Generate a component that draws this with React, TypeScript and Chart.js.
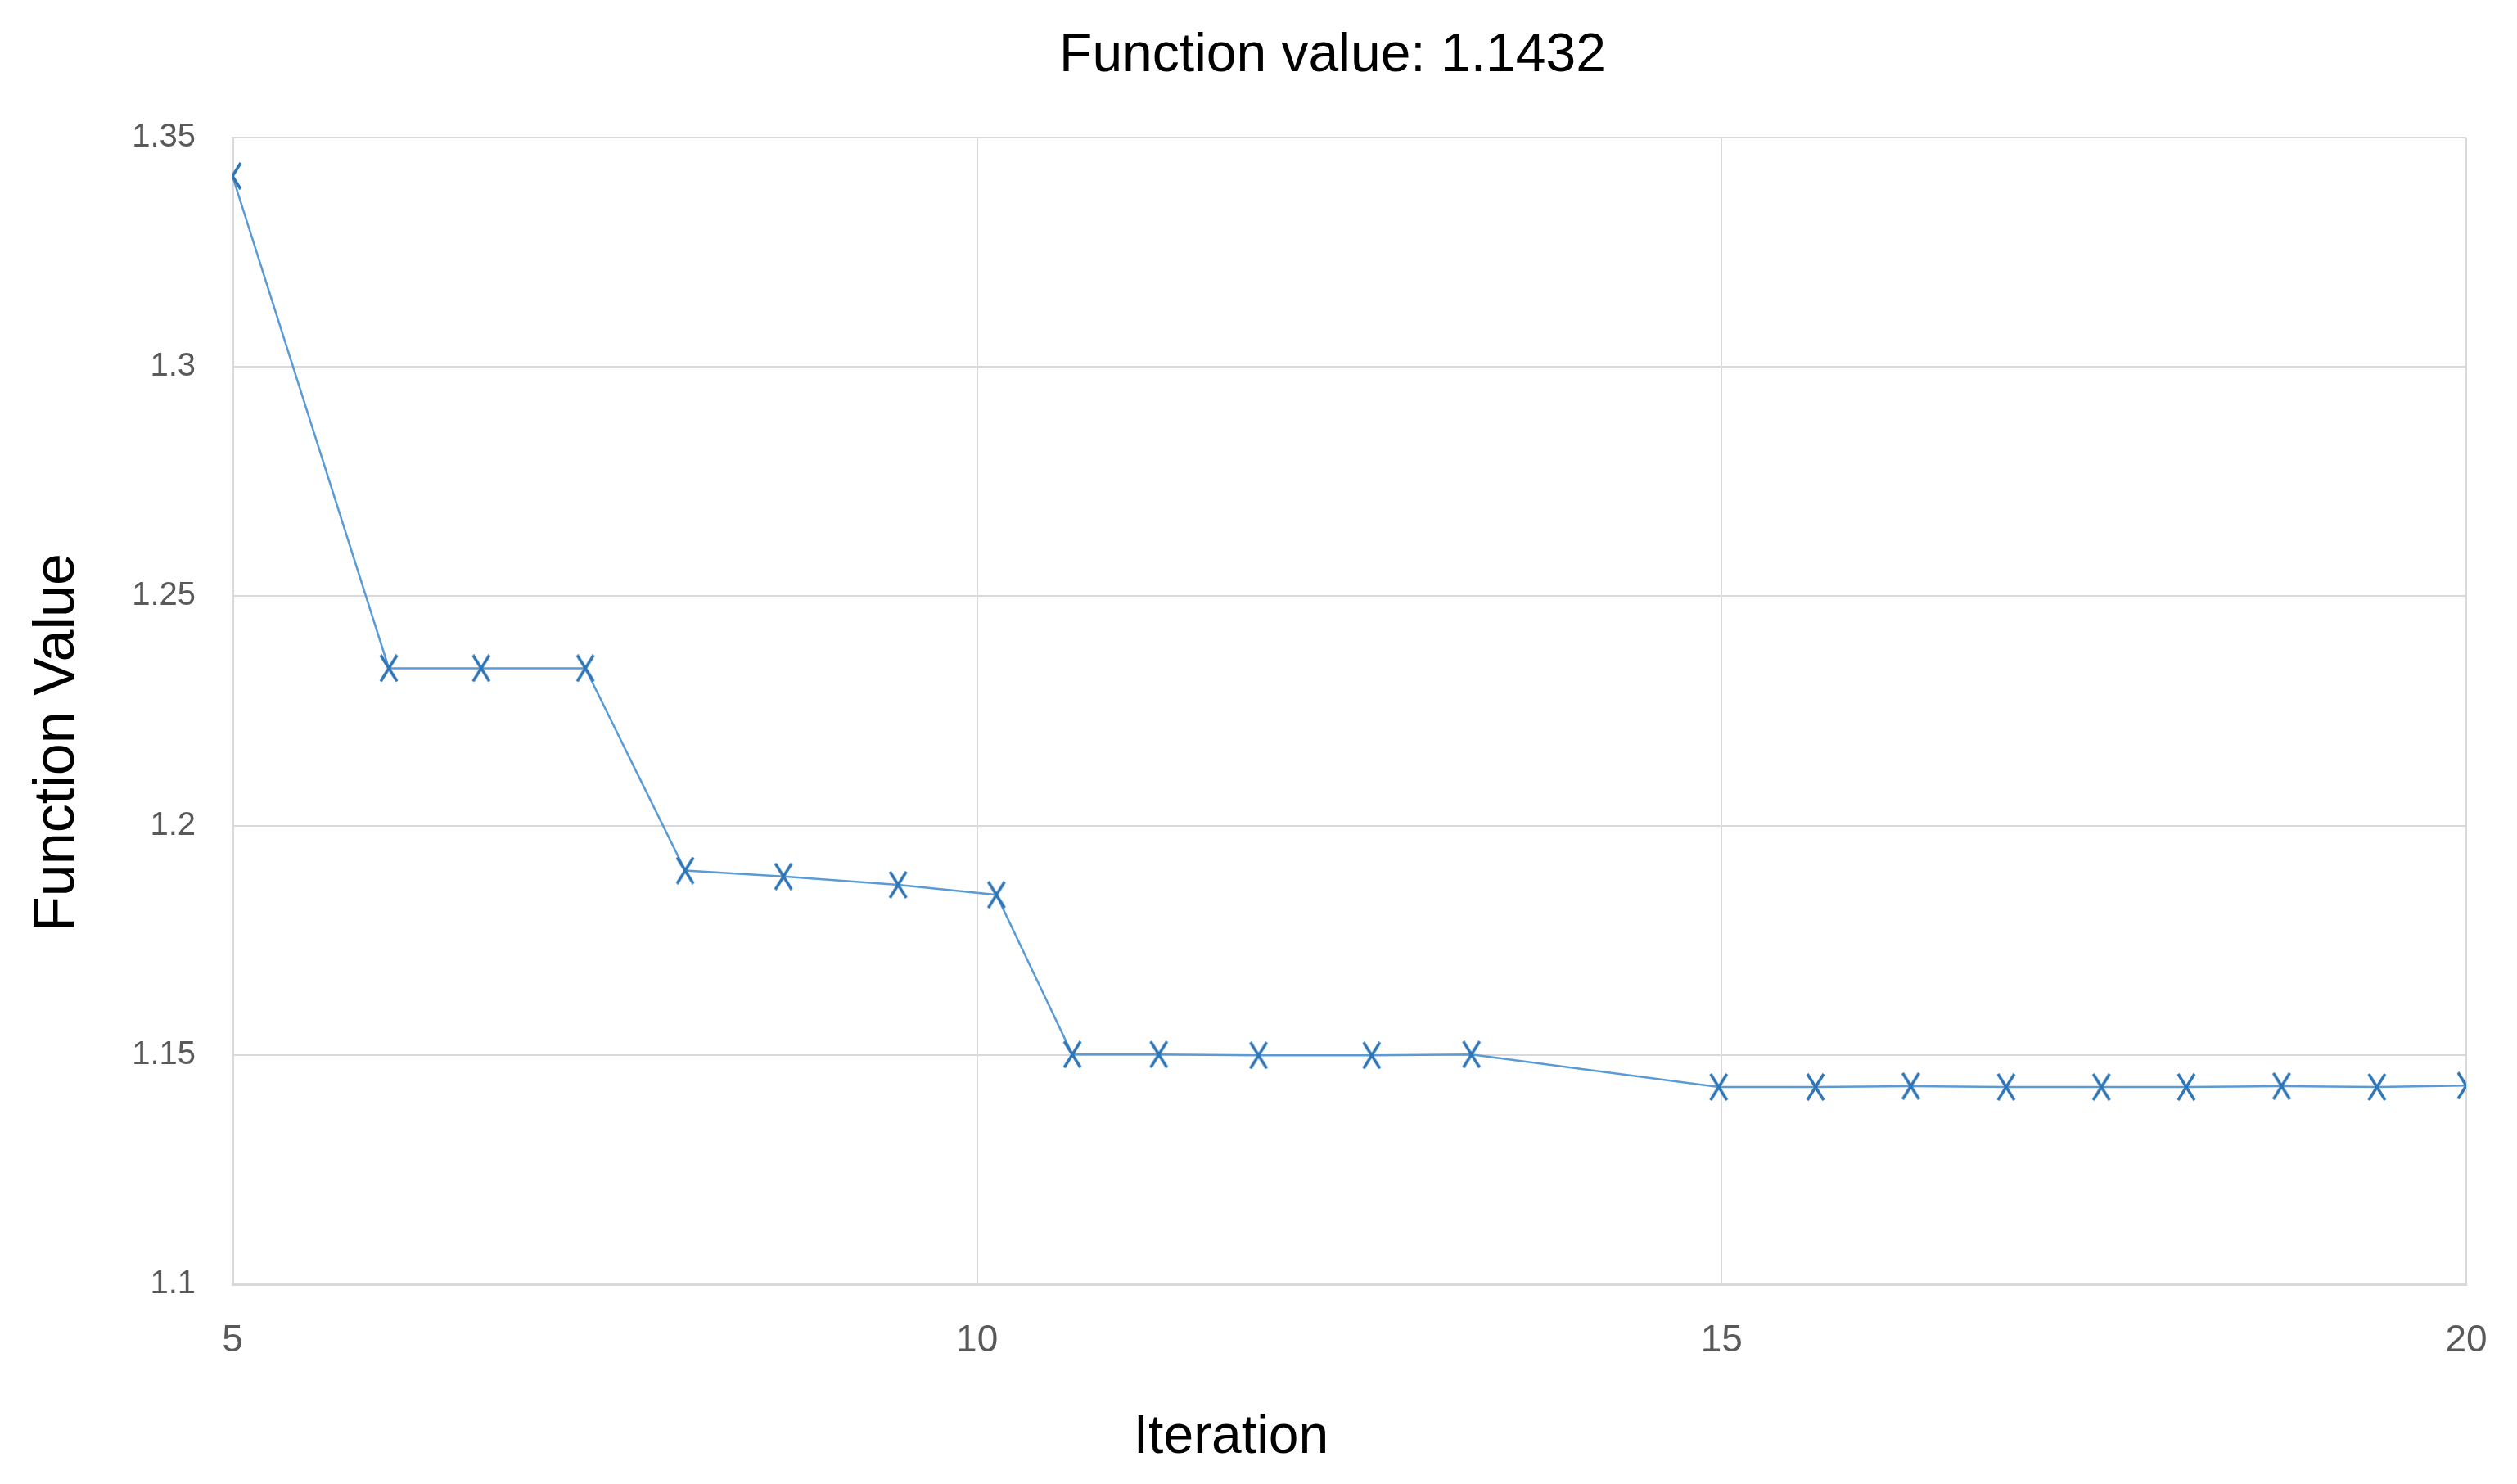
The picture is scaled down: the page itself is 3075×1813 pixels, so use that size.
import React, { useEffect, useRef } from "react";
import { Chart, registerables } from "chart.js";

Chart.register(...registerables);

const titleText = "Function value: 1.1432";
const xAxisTitle = "Iteration";
const yAxisTitle = "Function Value";

const iterations = [5, 6.05, 6.67, 7.37, 8.04, 8.7, 9.47, 10.13, 10.64, 11.22, 11.89, 12.65, 13.32, 14.98, 15.63, 16.27, 16.91, 17.55, 18.12, 18.76, 19.4, 20.0];
const functionValues = [1.3416, 1.2343, 1.2343, 1.2343, 1.1902, 1.1889, 1.1871, 1.1849, 1.1501, 1.1501, 1.1499, 1.1499, 1.1501, 1.143, 1.143, 1.1432, 1.143, 1.143, 1.143, 1.1432, 1.143, 1.1433];

const xTickValues = [5, 10, 15, 20];
const yTickValues = [1.1, 1.15, 1.2, 1.25, 1.3, 1.35];

const CANVAS_W = 3059;
const CANVAS_H = 1797;

function makeMarker(): HTMLCanvasElement {
  const c = document.createElement("canvas");
  c.width = 26;
  c.height = 34;
  const g = c.getContext("2d")!;
  g.strokeStyle = "#2e75b6";
  g.lineWidth = 3.5;
  g.beginPath();
  g.moveTo(3, 1);
  g.lineTo(23, 33);
  g.moveTo(23, 1);
  g.lineTo(3, 33);
  g.stroke();
  return c;
}

const titlesPlugin = {
  id: "titlesPlugin",
  afterDraw(chart: any) {
    const ctx = chart.ctx as CanvasRenderingContext2D;
    ctx.save();
    ctx.fillStyle = "#000000";
    ctx.font = "66px 'Liberation Sans'";
    ctx.textAlign = "center";
    ctx.textBaseline = "alphabetic";
    ctx.fillText(titleText, 1620, 79);
    ctx.fillText(xAxisTitle, 1496, 1767);
    ctx.translate(82, 899);
    ctx.rotate(-Math.PI / 2);
    ctx.font = "70px 'Liberation Sans'";
    ctx.fillText(yAxisTitle, 0, 0);
    ctx.restore();
  },
};

export default function App() {
  const ref = useRef<HTMLCanvasElement | null>(null);

  useEffect(() => {
    if (!ref.current) return;
    const marker = makeMarker();
    const points = iterations.map((x, i) => ({ x, y: functionValues[i] }));
    const chart = new Chart(ref.current, {
      type: "line",
      data: {
        datasets: [
          {
            data: points,
            borderColor: "#5b9bd5",
            borderWidth: 2.5,
            tension: 0,
            fill: false,
            pointStyle: marker as any,
            pointRadius: 13,
            pointHoverRadius: 13,
          },
        ],
      },
      options: {
        animation: false,
        responsive: false,
        devicePixelRatio: 1,
        layout: { padding: { top: 160, right: 54, bottom: 136, left: 0 } },
        plugins: {
          legend: { display: false },
          tooltip: { enabled: false },
          title: { display: false },
        },
        scales: {
          x: {
            type: "linear",
            min: 5,
            max: 20,
            afterBuildTicks: (scale: any) => {
              scale.ticks = xTickValues.map((v) => ({ value: v }));
            },
            afterFit: (scale: any) => {
              scale.height = 100;
            },
            grid: {
              color: "#d9d9d9",
              lineWidth: 2,
              drawTicks: true,
              tickLength: 42,
              tickColor: "rgba(0,0,0,0)",
            },
            border: { display: true, color: "#d9d9d9", width: 3 },
            ticks: {
              color: "#595959",
              font: { family: "'Liberation Sans'", size: 46 },
              padding: 0,
              maxRotation: 0,
              callback: (v: any) => String(v),
            },
          },
          y: {
            type: "linear",
            min: 1.1,
            max: 1.35,
            afterBuildTicks: (scale: any) => {
              scale.ticks = yTickValues.map((v) => ({ value: v }));
            },
            afterFit: (scale: any) => {
              scale.width = 276;
            },
            grid: { color: "#d9d9d9", lineWidth: 2, drawTicks: false },
            border: { display: true, color: "#d9d9d9", width: 3 },
            ticks: {
              color: "#595959",
              font: { family: "'Liberation Sans'", size: 40 },
              padding: 45,
              callback: (v: any) => String(Number(Number(v).toFixed(2))),
            },
          },
        },
      },
      plugins: [titlesPlugin],
    });
    return () => chart.destroy();
  }, []);

  return (
    <div style={{ width: CANVAS_W, height: CANVAS_H, background: "#ffffff" }}>
      <canvas ref={ref} width={CANVAS_W} height={CANVAS_H} style={{ display: "block" }} />
    </div>
  );
}
